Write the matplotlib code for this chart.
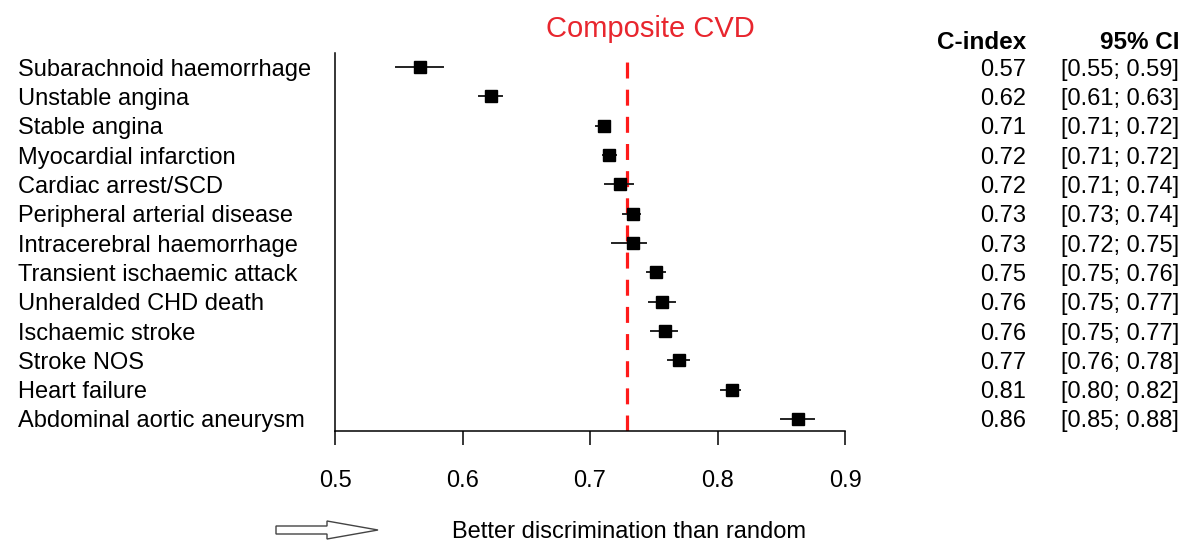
import matplotlib
matplotlib.use('Agg')
import matplotlib.pyplot as plt
from matplotlib.transforms import blended_transform_factory
from matplotlib.patches import Polygon

plt.rcParams['font.family'] = ['Liberation Sans', 'DejaVu Sans']

outcomes = ['Subarachnoid haemorrhage', 'Unstable angina', 'Stable angina',
            'Myocardial infarction', 'Cardiac arrest/SCD', 'Peripheral arterial disease',
            'Intracerebral haemorrhage', 'Transient ischaemic attack', 'Unheralded CHD death',
            'Ischaemic stroke', 'Stroke NOS', 'Heart failure', 'Abdominal aortic aneurysm']
cindex = [0.567, 0.622, 0.711, 0.715, 0.7235, 0.734, 0.734, 0.752, 0.7565, 0.759, 0.770, 0.811, 0.863]
lower = [0.548, 0.613, 0.705, 0.710, 0.712, 0.726, 0.717, 0.745, 0.746, 0.748, 0.761, 0.803, 0.850]
upper = [0.585, 0.631, 0.716, 0.720, 0.734, 0.739, 0.744, 0.759, 0.767, 0.768, 0.778, 0.818, 0.876]
cindex_txt = ['0.57', '0.62', '0.71', '0.72', '0.72', '0.73', '0.73', '0.75', '0.76', '0.76', '0.77', '0.81', '0.86']
ci_txt = ['[0.55; 0.59]', '[0.61; 0.63]', '[0.71; 0.72]', '[0.71; 0.72]', '[0.71; 0.74]',
          '[0.73; 0.74]', '[0.72; 0.75]', '[0.75; 0.76]', '[0.75; 0.77]', '[0.75; 0.77]',
          '[0.76; 0.78]', '[0.80; 0.82]', '[0.85; 0.88]']
composite = 0.729
xticks = [0.5, 0.6, 0.7, 0.8, 0.9]

fig = plt.figure(figsize=(11.86, 5.42), dpi=100)
ax = fig.add_axes([335 / 1186, 111 / 542, 510 / 1186, 378 / 542])

n = len(outcomes)
ys = list(range(n, 0, -1))

for y, c, lo, hi in zip(ys, cindex, lower, upper):
    ax.plot([lo, hi], [y, y], color='#222222', lw=1.4, zorder=3)
    ax.plot(c, y, marker='s', color='black', markersize=8, zorder=4)

ax.axvline(composite, color='#ff1a1a', lw=2.3, dashes=(5, 3.5), zorder=2)

ax.set_xlim(0.5, 0.9)
ax.set_ylim(0.59, n + 0.48)
ax.set_xticks(xticks)
ax.set_xticklabels([str(t) for t in xticks])
ax.set_yticks([])
ax.tick_params(axis='x', length=10, width=1.1, pad=18, labelsize=17)
for s in ['top', 'right']:
    ax.spines[s].set_visible(False)
for s in ['left', 'bottom']:
    ax.spines[s].set_linewidth(1.1)

trans = blended_transform_factory(fig.transFigure, ax.transData)
for y, name, ct, cit in zip(ys, outcomes, cindex_txt, ci_txt):
    fig.text(18 / 1186, y, name, transform=trans, ha='left', va='center_baseline', fontsize=17)
    fig.text(1026 / 1186, y, ct, transform=trans, ha='right', va='center_baseline', fontsize=17)
    fig.text(1179 / 1186, y, cit, transform=trans, ha='right', va='center_baseline', fontsize=17)

fig.text(1026 / 1186, 1 - 42 / 542, 'C-index', ha='right', va='center', fontsize=17.5, fontweight='bold')
fig.text(1179 / 1186, 1 - 42 / 542, '95% CI', ha='right', va='center', fontsize=17.5, fontweight='bold')

fig.text(650 / 1186, 1 - 29 / 542, 'Composite CVD', ha='center', va='center', fontsize=21, color='#e8262e')

fig.text(629 / 1186, 1 - 532 / 542, 'Better discrimination than random', ha='center', va='center', fontsize=17)

# hollow arrow
px = [276, 327, 327, 378, 327, 327, 276]
py = [526, 526, 521, 530, 539, 534, 534]
arrow = Polygon([(x / 1186, 1 - y / 542) for x, y in zip(px, py)], closed=True,
                fill=False, edgecolor='#444444', lw=1.0, transform=fig.transFigure)
fig.patches.append(arrow)

fig.savefig('out.png', dpi=100)
